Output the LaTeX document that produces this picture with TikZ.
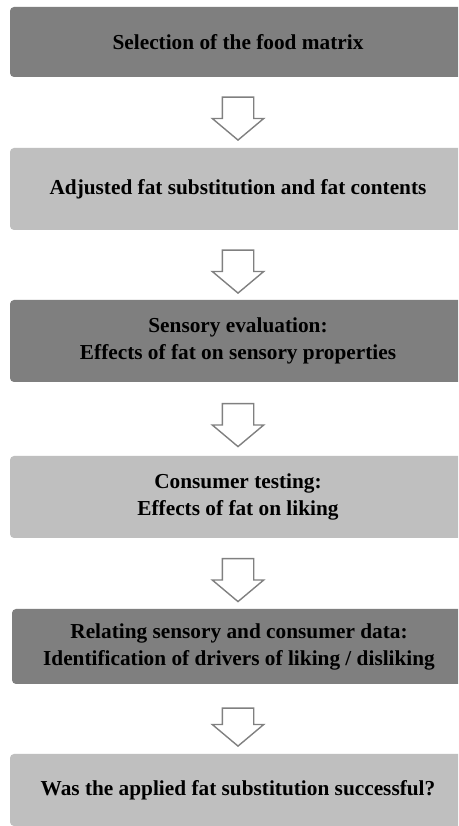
\documentclass[tikz,border=0pt]{standalone}
\usepackage{fontspec}
\setmainfont{Liberation Serif}
\usetikzlibrary{shapes.arrows}
\definecolor{stepdark}{HTML}{7F7F7F}
\definecolor{steplight}{HTML}{BFBFBF}
\definecolor{arrowgray}{HTML}{808080}

\tikzset{
  stepbox/.style={rounded corners=4pt,minimum width=456pt,align=center,inner sep=0pt,
    font=\fontsize{21.3}{27}\selectfont\bfseries},
  blockarrow/.style={draw=arrowgray,fill=white,line width=1.4pt,single arrow,shape border rotate=270,
    minimum height=43pt,single arrow head extend=10pt,single arrow tip angle=100,inner sep=0pt}
}

\begin{document}
\begin{tikzpicture}[x=1pt,y=1pt]
  \useasboundingbox (0,0) rectangle (458,826);
  \clip (0,0) rectangle (458,826);
  \fill[white] (0,0) rectangle (458,826);

  \node[stepbox,fill=stepdark,minimum height=70pt] (matrix) at (238,784) {Selection of the food matrix};
  \node[stepbox,fill=steplight,minimum height=82pt] (fat) at (238,637) {Adjusted fat substitution and fat contents};
  \node[stepbox,fill=stepdark,minimum height=82pt] (sensory) at (238,485) {Sensory evaluation:\\Effects of fat on sensory properties};
  \node[stepbox,fill=steplight,minimum height=82pt] (consumer) at (238,329) {Consumer testing:\\Effects of fat on liking};
  \node[stepbox,fill=stepdark,minimum height=75pt,minimum width=454pt] (drivers) at (239,179.5) {Relating sensory and consumer data:\\Identification of drivers of liking / disliking};
  \node[stepbox,fill=steplight,minimum height=72pt] (success) at (238,36) {Was the applied fat substitution successful?};

  % hollow arrows between the steps
  \node[blockarrow] (a1) at (238,714) {\hspace*{30pt}};
  \node[blockarrow] (a2) at (238,561) {\hspace*{30pt}};
  \node[blockarrow] (a3) at (238,407.5) {\hspace*{30pt}};
  \node[blockarrow] (a4) at (238,252.5) {\hspace*{30pt}};
  \node[blockarrow,minimum height=38pt] (a5) at (238,105.5) {\hspace*{30pt}};
\end{tikzpicture}
\end{document}
